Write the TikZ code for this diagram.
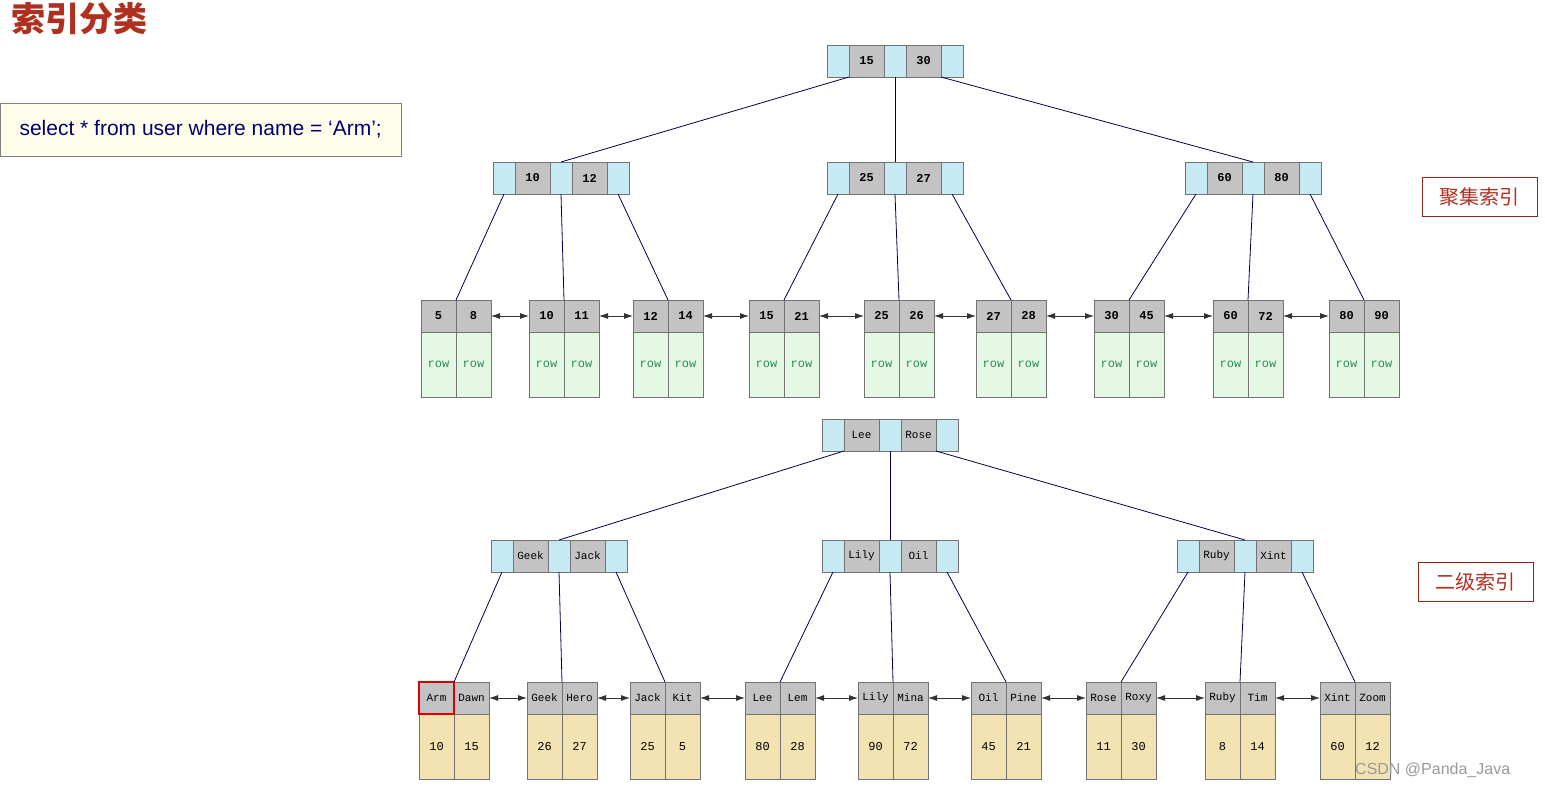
\documentclass[tikz,border=0pt]{standalone}
\usepackage{fontspec}
\setmainfont{Liberation Sans}
\newfontfamily\mono{Liberation Mono}
\newfontfamily\cjk{Noto Sans CJK SC}
\usetikzlibrary{arrows.meta}
\definecolor{bluec}{HTML}{C6E9F3}
\definecolor{grayc}{HTML}{C3C3C3}
\definecolor{greenc}{HTML}{E4F8E4}
\definecolor{yelc}{HTML}{F3E3B2}
\definecolor{rowc}{HTML}{2E8B57}
\definecolor{titlec}{HTML}{B03020}
\tikzset{
 cell/.style={draw=black!55,line width=0.8pt,inner sep=0pt,outer sep=0pt,anchor=north west},
 bcell/.style={cell,fill=bluec,minimum width=22pt,minimum height=32pt},
 gcell/.style={cell,fill=grayc,minimum width=35pt,minimum height=32pt,font=\mono\bfseries\fontsize{12}{14}\selectfont},
 body/.style={cell,minimum width=35pt,minimum height=65pt},
 gbody/.style={body,fill=greenc,text=rowc,font=\mono\fontsize{12}{14}\selectfont},
 ybody/.style={body,fill=yelc,font=\mono\fontsize{12}{14}\selectfont},
 edge/.style={draw=blue!30!black,line width=0.8pt},
 link/.style={draw=black!80,line width=0.8pt,{Latex[length=9pt,width=6pt]}-{Latex[length=9pt,width=6pt]}},
 lab/.style={draw=titlec!80!black,line width=0.8pt,text=titlec,font=\cjk\fontsize{20}{24}\selectfont,minimum width=115pt,minimum height=39pt,inner sep=0pt}
}
\newcommand\inode[5]{%
 \node[bcell] (#1a) at (#2,#3) {};
 \node[gcell] (#1b) at (#1a.north east) {#4};
 \node[bcell] (#1c) at (#1b.north east) {};
 \node[gcell] (#1d) at (#1c.north east) {#5};
 \node[bcell] (#1e) at (#1d.north east) {};}
\newcommand\leaf[8]{%
 \node[gcell] (#1a) at (#2,#3) {#4};
 \node[gcell] (#1b) at (#1a.north east) {#5};
 \node[#8] (#1c) at (#1a.south west) {#6};
 \node[#8] (#1d) at (#1b.south west) {#7};}
\begin{document}
\begin{tikzpicture}[x=1pt,y=-1pt]
\useasboundingbox (0,0) rectangle (1545,787);
\node[anchor=north west,text=titlec,font=\cjk\bfseries\fontsize{34}{38}\selectfont,inner sep=0pt] (title) at (11,2) {索引分类};
\node[anchor=north west,draw=black!50,fill=yellow!8,minimum width=401pt,minimum height=53pt,inner sep=0pt,text=blue!45!black,font=\fontsize{21}{24}\selectfont] (sql) at (0,103) {select * from user where name = ‘Arm’;};
\node[lab,anchor=north west] (l1) at (1422,177) {聚集索引};
\node[lab,anchor=north west] (l2) at (1418,562) {二级索引};
% top tree
\inode{R}{827}{45}{15}{30}
\inode{A}{493}{162}{10}{12}
\inode{B}{827}{162}{25}{27}
\inode{C}{1185}{162}{60}{80}
\leaf{L1}{421}{300}{5}{8}{row}{row}{gbody}
\leaf{L2}{529}{300}{10}{11}{row}{row}{gbody}
\leaf{L3}{633}{300}{12}{14}{row}{row}{gbody}
\leaf{L4}{749}{300}{15}{21}{row}{row}{gbody}
\leaf{L5}{864}{300}{25}{26}{row}{row}{gbody}
\leaf{L6}{976}{300}{27}{28}{row}{row}{gbody}
\leaf{L7}{1094}{300}{30}{45}{row}{row}{gbody}
\leaf{L8}{1213}{300}{60}{72}{row}{row}{gbody}
\leaf{L9}{1329}{300}{80}{90}{row}{row}{gbody}
\draw[edge] (Ra.south east) -- (Ac.north);
\draw[edge] (Rc.south) -- (Bc.north);
\draw[edge] (Re.south west) -- (Cc.north);
\foreach \p/\a/\b/\c in {A/L1/L2/L3,B/L4/L5/L6,C/L7/L8/L9}{
 \draw[edge] (\p a.south) -- (\a a.north east);
 \draw[edge] (\p c.south) -- (\b a.north east);
 \draw[edge] (\p e.south) -- (\c a.north east);}
\foreach \u/\v in {L1/L2,L2/L3,L3/L4,L4/L5,L5/L6,L6/L7,L7/L8,L8/L9}
 \draw[link] (\u b.east) -- (\v a.west);
% bottom tree
\tikzset{gcell/.append style={font=\mono\fontsize{11}{13}\selectfont}}
\inode{S}{822}{419}{Lee}{Rose}
\inode{D}{491}{540}{Geek}{Jack}
\inode{E}{822}{540}{Lily}{Oil}
\inode{F}{1177}{540}{Ruby}{Xint}
\leaf{M1}{419}{682}{Arm}{Dawn}{10}{15}{ybody}
\leaf{M2}{527}{682}{Geek}{Hero}{26}{27}{ybody}
\leaf{M3}{630}{682}{Jack}{Kit}{25}{5}{ybody}
\leaf{M4}{745}{682}{Lee}{Lem}{80}{28}{ybody}
\leaf{M5}{858}{682}{Lily}{Mina}{90}{72}{ybody}
\leaf{M6}{971}{682}{Oil}{Pine}{45}{21}{ybody}
\leaf{M7}{1086}{682}{Rose}{Roxy}{11}{30}{ybody}
\leaf{M8}{1205}{682}{Ruby}{Tim}{8}{14}{ybody}
\leaf{M9}{1320}{682}{Xint}{Zoom}{60}{12}{ybody}
\draw[draw=red!85!black,line width=1.6pt] (M1a.north west) rectangle (M1a.south east);
\draw[edge] (Sa.south east) -- (Dc.north);
\draw[edge] (Sc.south) -- (Ec.north);
\draw[edge] (Se.south west) -- (Fc.north);
\foreach \p/\a/\b/\c in {D/M1/M2/M3,E/M4/M5/M6,F/M7/M8/M9}{
 \draw[edge] (\p a.south) -- (\a a.north east);
 \draw[edge] (\p c.south) -- (\b a.north east);
 \draw[edge] (\p e.south) -- (\c a.north east);}
\foreach \u/\v in {M1/M2,M2/M3,M3/M4,M4/M5,M5/M6,M6/M7,M7/M8,M8/M9}
 \draw[link] (\u b.east) -- (\v a.west);
\node[anchor=south west,text=black!40,font=\fontsize{16}{18}\selectfont,inner sep=0pt] (wm) at (1355,778) {CSDN @Panda\_Java};
\end{tikzpicture}
\end{document}
